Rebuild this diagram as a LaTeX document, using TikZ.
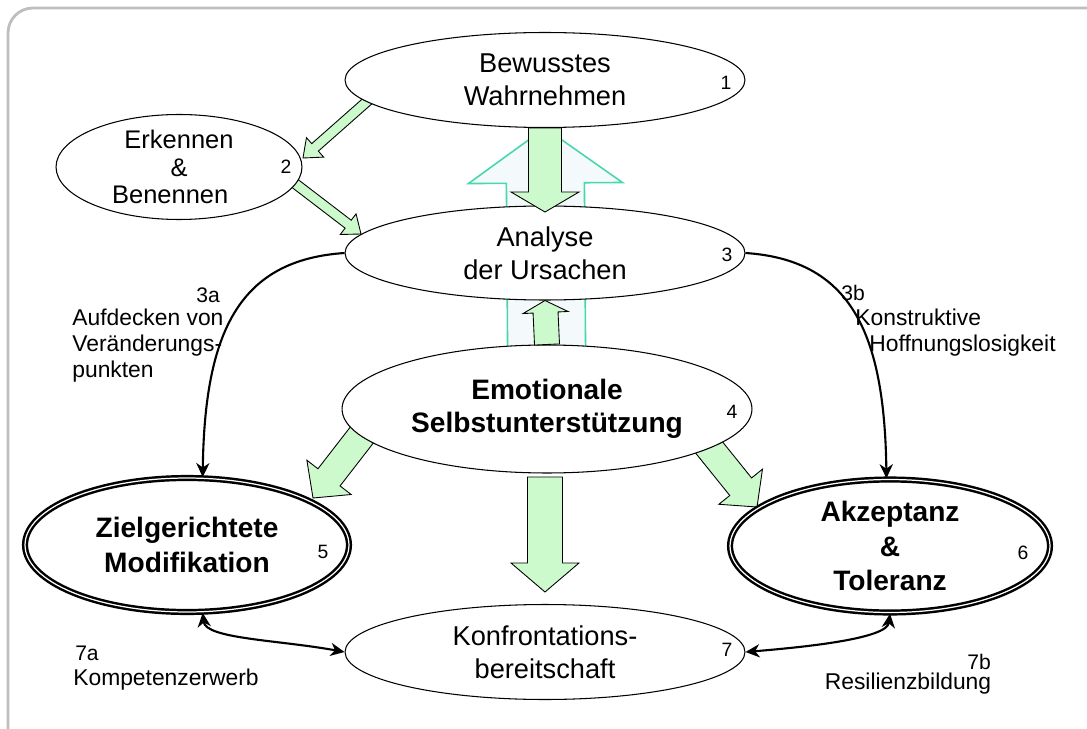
\documentclass[tikz,border=0pt]{standalone}
\usepackage{fontspec}
\setmainfont{Liberation Sans}
\usetikzlibrary{arrows.meta, shapes.geometric, calc, backgrounds}

\definecolor{arrowgreen}{RGB}{204,250,204}
\definecolor{hollowline}{RGB}{70,215,170}
\definecolor{hollowfill}{RGB}{244,250,252}
\definecolor{framegray}{RGB}{190,190,190}

%% one pixel of the sketch
\def\px{0.02cm}

%% block arrow: [style]{tail}{tip}{shaft half}{head half}{head length} (in px)
\newcommand{\fatarrow}[6][]{%
  \draw[fatarrow,#1] let \p1=($(#3)-(#2)$), \n1={veclen(\x1,\y1)}, \n2={atan2(\y1,\x1)} in
    ($(#2)+(\n2+90:#4*\px)$)
    -- ($(#2)+(\n2:\n1-#6*\px)+(\n2+90:#4*\px)$)
    -- ($(#2)+(\n2:\n1-#6*\px)+(\n2+90:#5*\px)$)
    -- (#3)
    -- ($(#2)+(\n2:\n1-#6*\px)+(\n2-90:#5*\px)$)
    -- ($(#2)+(\n2:\n1-#6*\px)+(\n2-90:#4*\px)$)
    -- ($(#2)+(\n2-90:#4*\px)$) -- cycle;}

\tikzset{
  state/.style={ellipse, draw, line width=0.6pt, fill=white, inner sep=0pt, align=center,
    font=\fontsize{15.5}{19}\selectfont},
  keystate/.style={state, line width=1.4pt, double=white, double distance=0.7pt,
    font=\fontsize{16}{20}\selectfont\bfseries},
  num/.style={font=\fontsize{11}{13}\selectfont, inner sep=0pt},
  lbl/.style={font=\fontsize{13}{14.8}\selectfont, inner sep=0pt, align=left},
  fatarrow/.style={draw=black, line width=0.5pt, fill=arrowgreen, line join=miter},
  hollowarrow/.style={draw=hollowline, line width=0.9pt, fill=hollowfill},
  link/.style={line width=1.2pt, -{Stealth[length=8pt, width=7.5pt, inset=2.5pt]}},
  biglink/.style={link, {Stealth[length=8pt, width=7.5pt, inset=2.5pt]}-{Stealth[length=8pt, width=7.5pt, inset=2.5pt]}},
  frame/.style={draw=framegray, line width=1.6pt, rounded corners=0.5cm}
}

\begin{document}
\begin{tikzpicture}[x=\px, y=-\px]
\useasboundingbox (0,0) rectangle (1087,729);

%% ellipses
\node[state, minimum width=8cm, minimum height=1.9cm] (wahr) at (545,80) {Bewusstes\\Wahrnehmen};
\node[state, minimum width=4.92cm, minimum height=2.1cm, font=\fontsize{14.5}{15.5}\selectfont] (erk) at (179,167) {Erkennen\\\&\\Benennen\hspace*{10pt}};
\node[state, minimum width=8cm, minimum height=1.88cm] (anal) at (545,253) {Analyse\\der Ursachen};
\node[state, minimum width=8.2cm, minimum height=2.56cm, font=\fontsize{16}{19}\selectfont\bfseries] (emo) at (547,409) {Emotionale\\Selbstunterstützung};
\node[keystate, minimum width=6.48cm, minimum height=2.68cm] (ziel) at (187,545) {Zielgerichtete\\Modifikation};
\node[keystate, minimum width=6.4cm, minimum height=2.66cm, font=\fontsize{16}{19.5}\selectfont\bfseries] (akz) at (890,546) {Akzeptanz\\\&\\Toleranz};
\node[state, minimum width=8cm, minimum height=1.9cm] (konf) at (545,652) {Konfrontations-\\bereitschaft};

% numbers
\node[num] (n1) at (726,83) {1};
\node[num] (n2) at (286,167) {2};
\node[num] (n3) at (727,255) {3};
\node[num] (n4) at (732,412) {4};
\node[num] (n5) at (323,552) {5};
\node[num] (n6) at (1023,553) {6};
\node[num] (n7) at (727,650) {7};

%% block arrow ends
\coordinate (s12) at (380,90);  \coordinate (e12) at (303,158);
\coordinate (s23) at (280,172); \coordinate (e23) at (361,234);
\coordinate (s45) at (375,418); \coordinate (e45) at (313,498);
\coordinate (s46) at (695,430); \coordinate (e46) at (757,507);
\coordinate (s47) at (545,477); \coordinate (e47) at (545,592);
\coordinate (e13) at (545,212);

\begin{scope}[on background layer]
\draw[frame] (8,729) -- (8,8) -- (1087,8);
\fatarrow[hollowarrow]{emo.center}{wahr.south}{39}{77}{55}
\fatarrow{s12}{e12}{5}{13}{16}
\fatarrow{s23}{e23}{5}{13}{16}
\fatarrow{s45}{e45}{14}{28}{26}
\fatarrow{s46}{e46}{14}{28}{26}
\end{scope}

\fatarrow{wahr.south}{e13}{16.5}{34}{20}
\fatarrow{emo.north}{anal.south}{12.5}{22.5}{12}
\fatarrow{s47}{e47}{17.5}{34}{29}

%% curved links
\draw[link] (anal.west) .. controls +(-105,7) and +(2,-146) .. (ziel.77);
\draw[link] (anal.east) .. controls +(105,7) and +(-2,-146) .. (akz.93);
\draw[biglink] (ziel.-77) .. controls +(3,26) and +(-65,-12) .. (konf.west);
\draw[biglink] (konf.east) .. controls +(60,-5) and +(-3,25) .. (akz.south);

% labels
\node[lbl, font=\fontsize{12}{14}\selectfont] (l3a) at (208,295) {3a};
\node[lbl, anchor=west] (t3a) at (72,346) {Aufdecken von\\Veränderungs-\\punkten};
\node[lbl, font=\fontsize{12}{14}\selectfont] (l3b) at (853,293) {3b};
\node[lbl, anchor=west] (t3b) at (855,333) {Konstruktive\\\hspace*{8pt}Hoffnungslosigkeit};
\node[lbl, font=\fontsize{12}{14}\selectfont] (l7a) at (87,653) {7a};
\node[lbl] (t7a) at (166,680) {Kompetenzerwerb};
\node[lbl, font=\fontsize{12}{14}\selectfont] (l7b) at (979,662) {7b};
\node[lbl] (t7b) at (908,684) {Resilienzbildung};
\end{tikzpicture}
\end{document}
